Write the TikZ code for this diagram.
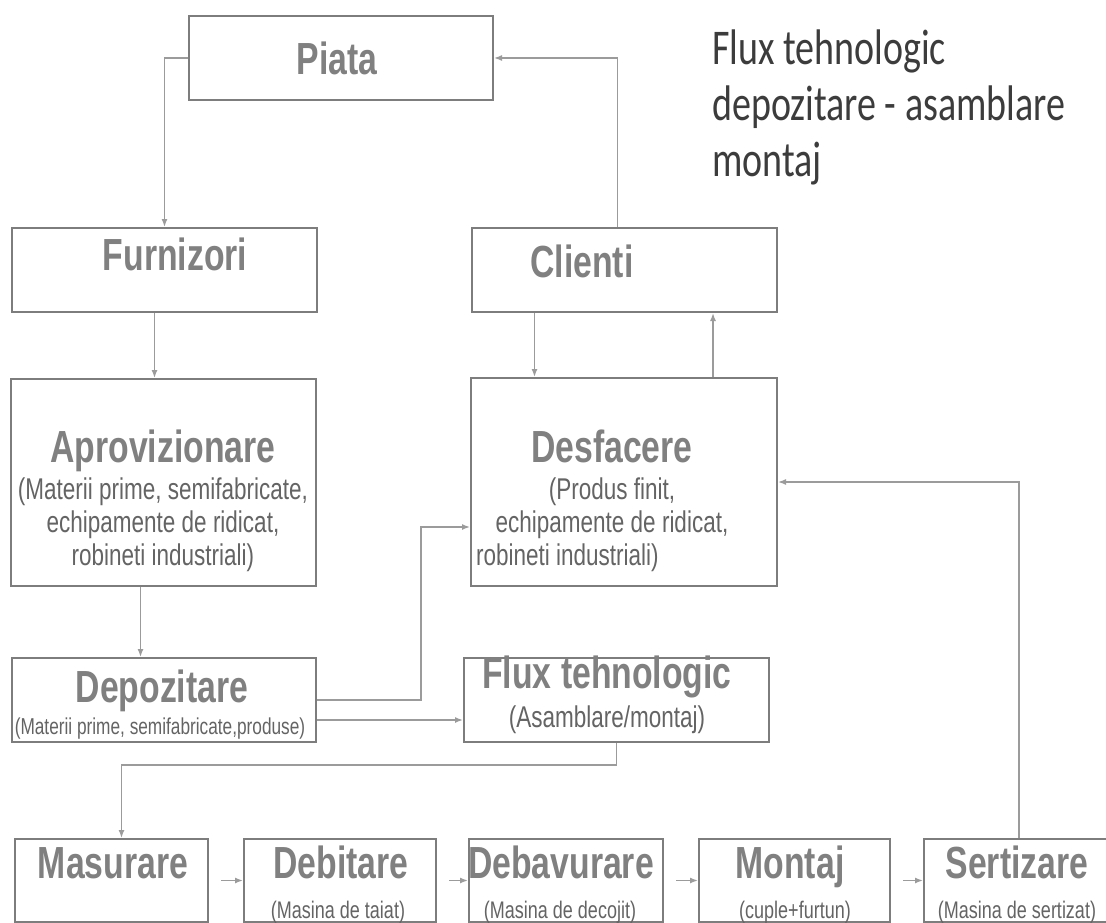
\documentclass[tikz,border=0pt]{standalone}
\usepackage{fontspec}
\newfontfamily\boxfont[FakeStretch=0.75]{Liberation Sans}
\newfontfamily\headfont[FakeStretch=0.76]{Carlito}
\usetikzlibrary{arrows.meta,positioning}
\definecolor{frame}{RGB}{125,125,125}
\definecolor{ink}{RGB}{128,128,128}
\definecolor{subink}{RGB}{100,100,100}
\definecolor{wire}{RGB}{155,155,155}
\definecolor{headink}{RGB}{60,60,60}

\begin{document}
\begin{tikzpicture}[
  x=1pt, y=-1pt,
  box/.style={draw=frame, line width=2pt, anchor=north west, inner sep=0pt},
  ttl/.style={font=\boxfont\bfseries\fontsize{45}{45}\selectfont, text=ink, anchor=base, inner sep=0pt},
  sub/.style={font=\boxfont\fontsize{30}{33}\selectfont, text=subink, anchor=base, inner sep=0pt},
  small/.style={font=\boxfont\fontsize{24}{26}\selectfont, text=subink, anchor=base, inner sep=0pt},
  head/.style={font=\headfont\fontsize{50}{56}\selectfont, text=headink, inner sep=0pt},
  arr/.style={draw=wire, line width=1.5pt, -{Latex[length=8pt,width=6pt]}}
]
\useasboundingbox[fill=white] (0,0) rectangle (1106,923);

% upper part
\node[box, minimum width=304pt, minimum height=84pt] (piata) at (188,15) {};
\node[box, minimum width=305pt, minimum height=84pt] (furn) at (11,227) {};
\node[box, minimum width=305pt, minimum height=84pt] (clienti) at (471,227) {};
\node[box, minimum width=305pt, minimum height=207pt] (aprov) at (10,378) {};
\node[box, minimum width=306pt, minimum height=208pt] (desf) at (470,377) {};
\node[box, minimum width=304pt, minimum height=84pt] (depoz) at (11,657) {};
\node[box, minimum width=305pt, minimum height=84pt] (flux) at (463,657) {};

\node[ttl] (piata-t) at (337,75) {Piata};
\node[ttl] (furn-t) at (175,270) {Furnizori};
\node[ttl] (clienti-t) at (582,277) {Clienti};
\node[ttl] (aprov-t) at (163,462) {Aprovizionare};
\node[sub, align=center] (aprov-s) at (163,565) {(Materii prime, semifabricate,\\echipamente de ridicat,\\robineti industriali)};
\node[ttl] (desf-t) at (612,462) {Desfacere};
\node[sub, align=center] (desf-s) at (612,532) {(Produs finit,\\echipamente de ridicat,};
\node[sub, anchor=base west] (desf-r) at (476,565) {robineti industriali)};
\node[ttl] (depoz-t) at (162,702) {Depozitare};
\node[small, font=\boxfont\fontsize{23}{25}\selectfont] (depoz-s) at (160,734) {(Materii prime, semifabricate,produse)};
\node[ttl] (flux-t) at (607,688) {Flux tehnologic};
\node[sub] (flux-s) at (607,727) {(Asamblare/montaj)};

\node[head, anchor=base west, align=left] (titlu) at (712,177) {Flux tehnologic\\depozitare - asamblare\\montaj};

% linia de asamblare
\node[box, minimum width=193pt, minimum height=83pt] (masur) at (14,838) {};
\node[box, minimum width=192pt, minimum height=83pt, right=34pt of masur] (debit) {};
\node[box, minimum width=194pt, minimum height=83pt, right=31pt of debit] (debav) {};
\node[box, minimum width=191pt, minimum height=83pt, right=34pt of debav] (montaj) {};
\node[box, minimum width=190pt, minimum height=83pt, right=32pt of montaj] (sert) {};

\node[ttl] (masur-t) at (113,878) {Masurare};
\node[ttl] (debit-t) at (341,878) {Debitare};
\node[ttl] (debav-t) at (561,878) {Debavurare};
\node[ttl] (montaj-t) at (790,878) {Montaj};
\node[ttl] (sert-t) at (1017,878) {Sertizare};
\node[small] (debit-s) at (338,918) {(Masina de taiat)};
\node[small] (debav-s) at (560,918) {(Masina de decojit)};
\node[small] (montaj-s) at (795,918) {(cuple+furtun)};
\node[small] (sert-s) at (1017,918) {(Masina de sertizat)};

% legaturi
\draw[arr] (piata.west) -| (furn.north);
\draw[arr] ([xshift=-7pt]clienti.north) |- (piata.east);
\draw[arr] ([xshift=-10pt]furn.south) -- ([xshift=-10pt]furn.south |- aprov.north);
\draw[arr] ([xshift=-23pt]aprov.south) -- ([xshift=-23pt]aprov.south |- depoz.north);
\draw[arr] ([xshift=-90pt]clienti.south) -- ([xshift=-90pt]clienti.south |- desf.north);
\draw[arr] ([xshift=89pt]desf.north) -- ([xshift=89pt]desf.north |- clienti.south);
\draw[arr] (depoz.east) -- ++(104,0) |- ([yshift=-45pt]desf.west);
\draw[arr] ([yshift=-20pt]depoz.east) -- ([yshift=-20pt]depoz.east -| flux.west);
\draw[arr] (flux.south) -- ++(0,22) -| ([xshift=10pt]masur.north);
\draw[arr, shorten <=12pt] (masur.east) -- (debit.west);
\draw[arr, shorten <=12pt] (debit.east) -- (debav.west);
\draw[arr, shorten <=12pt] (debav.east) -- (montaj.west);
\draw[arr, shorten <=12pt] (montaj.east) -- (sert.west);
\draw[arr] (sert.north) |- (desf.east);
\end{tikzpicture}
\end{document}
